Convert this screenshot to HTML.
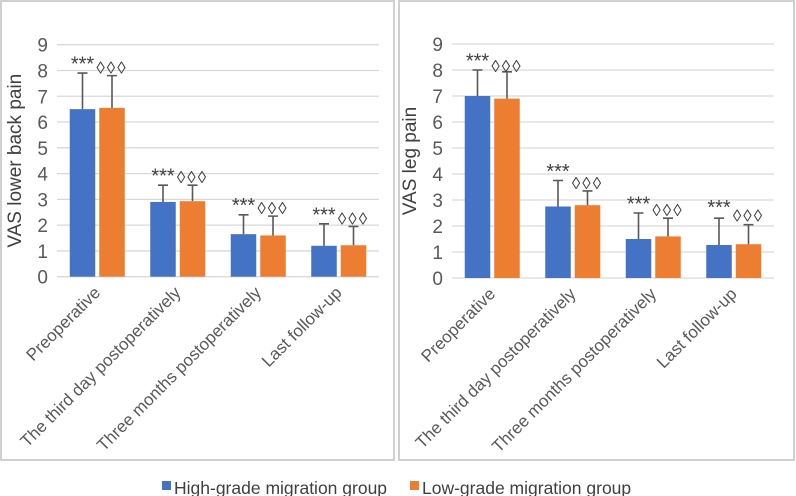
<!DOCTYPE html>
<html><head><meta charset="utf-8"><style>
body{margin:0;background:#fff;}
svg{display:block;font-family:"Liberation Sans","Noto Sans CJK SC",sans-serif;}
</style></head><body>
<svg id="c" width="796" height="496" viewBox="0 0 796 496">
<rect x="1" y="1" width="393" height="459" fill="#fff" stroke="#d0d0d0" stroke-width="2"/>
<rect x="399" y="1" width="395" height="459" fill="#fff" stroke="#d0d0d0" stroke-width="2"/>
<g>
<rect x="162" y="481" width="9" height="9" fill="#4472c4"/>
<text x="174" y="494" font-size="17.5" fill="#404040">High-grade migration group</text>
<rect x="410" y="481" width="9" height="9" fill="#ed7d31"/>
<text x="422" y="494" font-size="17.5" fill="#404040">Low-grade migration group</text>
</g>
</svg>
<script>
const categories=["Preoperative","The third day postoperatively","Three months postoperatively","Last follow-up"];
const yTicks=[0,1,2,3,4,5,6,7,8,9];
const backHigh=[6.5,2.9,1.65,1.2];
const backHighErr=[7.9,3.55,2.4,2.05];
const backLow=[6.55,2.93,1.6,1.22];
const backLowErr=[7.8,3.55,2.35,1.95];
const legHigh=[7.0,2.75,1.5,1.27];
const legHighErr=[8.0,3.75,2.5,2.3];
const legLow=[6.9,2.8,1.6,1.3];
const legLowErr=[7.93,3.35,2.3,2.05];
const legHighMarkTop=[8.45,4.2,2.95,2.8];
const legLowMarkTop=[8.2,3.7,2.65,2.45];

const NS="http://www.w3.org/2000/svg";
const svg=document.getElementById('c');
function mk(t,a,p){const e=document.createElementNS(NS,t);for(const k in a)e.setAttribute(k,a[k]);(p||svg).appendChild(e);return e;}

function panel(o){
  const g=mk('g',{});
  
  
  const y=v=>o.y0-(o.y0-o.y9)*v/9;
  const step=(o.x1-o.x0)/categories.length;
  yTicks.forEach(t=>{
    const l=mk('line',{x1:o.x0,x2:o.x1,y1:y(t),y2:y(t),stroke:'#d9d9d9','stroke-width':1.3},g);
    
    
    const tx=mk('text',{x:o.x0-9,y:y(t)+7,'font-size':19,fill:'#595959','text-anchor':'end'},g);
    tx.textContent=t;
    
    
  });
  const yt=mk('text',{x:0,y:0,'font-size':19,fill:'#404040','text-anchor':'middle',transform:`translate(${o.x0-36},${(o.y0+o.y9)/2}) rotate(-90)`},g);
  yt.textContent=o.title;
  
  
  const bw=25.5;
  categories.forEach((c,i)=>{
    const cx=o.x0+step*(i+0.5);
    [[o.high,o.highErr,'#4472c4',cx-bw-2,'***','high',o.hMark],[o.low,o.lowErr,'#ed7d31',cx+2,'\u25CA\u25CA\u25CA','low',o.lMark]].forEach(s=>{
      const v=s[0][i],e=s[1][i],bx=s[3],mx=bx+bw/2;
      const r=mk('rect',{x:bx,y:y(v),width:bw,height:y(0)-y(v),fill:s[2]},g);
      
      
      const el=mk('path',{d:`M${mx} ${y(v)}V${y(e)}M${mx-5} ${y(e)}H${mx+5}`,stroke:'#595959','stroke-width':1.6,fill:'none'},g);
      
      
      const mt=s[6]?s[6][i]:e+(s[5]=='high'?0.45:0.35);
      const hi=s[5]=='high';
      const m=mk('text',{x:mx,y:y(mt)+(hi?9:7),'font-size':hi?20:17,'letter-spacing':hi?0:2,fill:'#404040','text-anchor':'middle'},g);
      m.textContent=s[4];
      
      
    });
    const lb=mk('text',{x:0,y:0,'font-size':17,fill:'#595959','text-anchor':'end',transform:`translate(${cx+4},${o.y0+17}) rotate(-45)`},g);
    lb.textContent=c;
    
    
  });
}
panel({name:'lower-back-pain-chart',x0:57,x1:379,y0:276.7,y9:44.7,title:'VAS lower back pain',high:backHigh,highErr:backHighErr,low:backLow,lowErr:backLowErr});
panel({name:'leg-pain-chart',x0:452,x1:774,y0:278,y9:44,title:'VAS leg pain',high:legHigh,highErr:legHighErr,low:legLow,lowErr:legLowErr,hMark:legHighMarkTop,lMark:legLowMarkTop});
</script>
</body></html>
